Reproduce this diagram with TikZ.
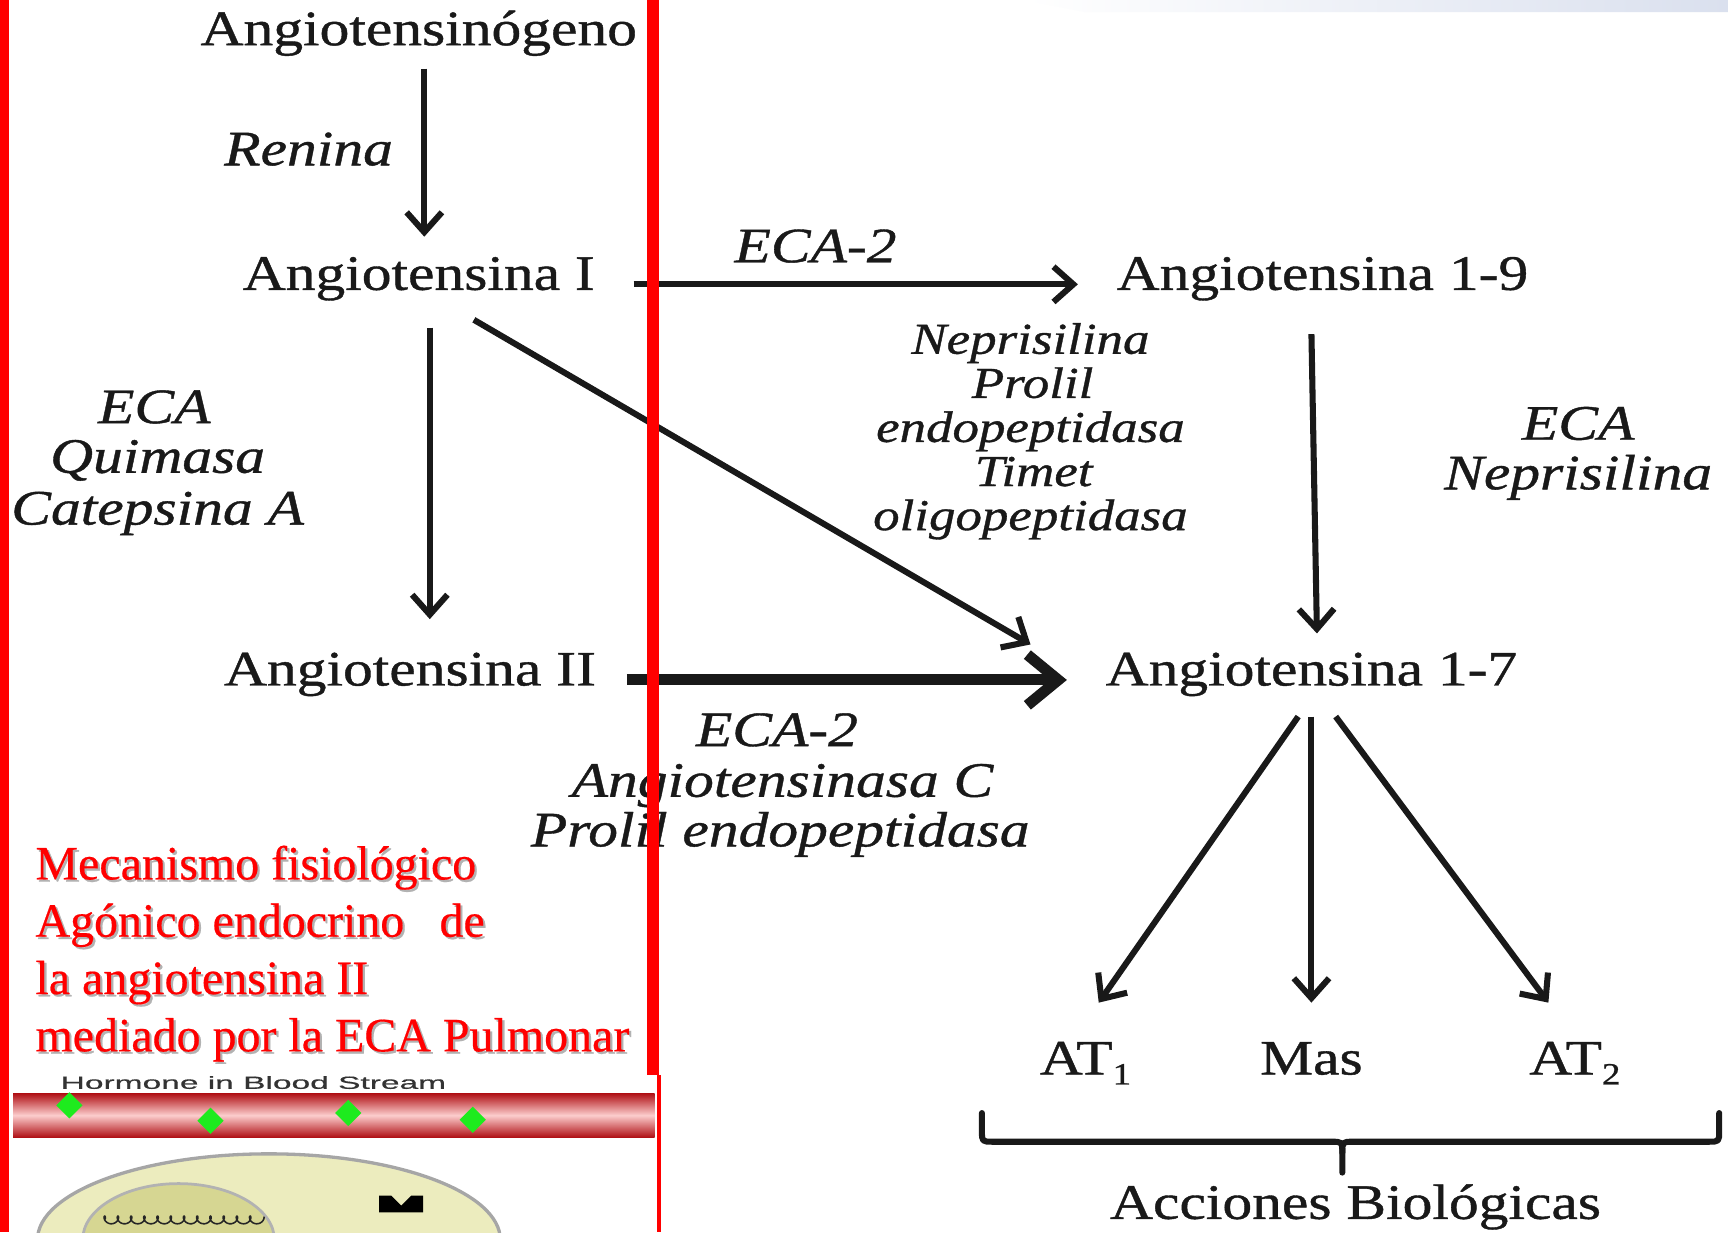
\documentclass[tikz,border=0pt]{standalone}
\usepackage{fontspec}
\usetikzlibrary{arrows.meta,shapes.geometric}
\newfontfamily\dgfont[FakeStretch=1.2,FakeBold=0.8]{Liberation Serif}
\newfontfamily\rdfont[FakeBold=0.4]{Liberation Serif}
\newfontfamily\hbfont[FakeStretch=1.9,FakeBold=0.5]{Liberation Sans}
\definecolor{ink}{gray}{0.1}
\definecolor{slidered}{RGB}{255,0,0}
\definecolor{cellfill}{RGB}{236,236,190}
\definecolor{nucfill}{RGB}{214,214,146}
\definecolor{swoosh}{RGB}{218,224,238}
\definecolor{vesseldark}{RGB}{175,15,20}
\definecolor{vessellight}{RGB}{252,205,205}
\definecolor{hormone}{RGB}{30,235,30}

\begin{document}
\begin{tikzpicture}[x=1pt,y=-1pt,
  mol/.style={font=\dgfont\fontsize{45}{50}\selectfont, text=ink, inner xsep=4pt,
              inner ysep=0pt, text height=30pt, text depth=0pt, anchor=base},
  enz/.style={font=\dgfont\itshape\fontsize{45}{50}\selectfont, text=ink,
              inner sep=0pt, anchor=base},
  enzs/.style={enz, font=\dgfont\itshape\fontsize{40}{44}\selectfont},
  arr/.style={draw=ink, line width=5.5pt, -{Straight Barb[length=18pt,width=32pt]}},
  bigarr/.style={draw=ink, line width=10pt, -{Straight Barb[length=28pt,width=46pt]}},
  brace/.style={draw=ink, line width=5.5pt, line cap=round, line join=round},
  redtxt/.style={font=\rdfont\fontsize{43.5}{50}\selectfont, text=slidered,
                 inner sep=0pt, anchor=base west},
  redshadow/.style={redtxt, text=black!30},
  bar/.style={fill=slidered}
]
\useasboundingbox (0,0) rectangle (1568,1118);
\clip (0,0) rectangle (1568,1118);
\fill[white] (0,0) rectangle (1568,1118);

% faint slide swoosh along the top edge
\shade[left color=white, right color=swoosh] (930,0) -- (1568,0) -- (1568,11) -- (985,11) -- cycle;

% molecules
\node[mol] (ang) at (380,41) {Angiotensinógeno};
\node[mol] (a1)  at (380,263) {Angiotensina I};
\node[mol] (a19) at (1200,263) {Angiotensina 1-9};
\node[mol] (a2)  at (372,622) {Angiotensina II};
\node[mol] (a17) at (1190,622) {Angiotensina 1-7};
\node[mol] (at1) at (985,975) {AT\raisebox{-9pt}{\fontsize{28}{28}\selectfont 1}};
\node[mol] (mas) at (1190,975) {Mas};
\node[mol] (at2) at (1429,975) {AT\raisebox{-9pt}{\fontsize{28}{28}\selectfont 2}};
\node[mol] (acc) at (1230,1106) {Acciones Biológicas};

% enzymes
\node[enz] (ren) at (280,150) {Renina};
\node[enz] (eca2a) at (740,238) {ECA-2};
\node[enz] (l1) at (140,384) {ECA};
\node[enz] (l2) at (143,429) {Quimasa};
\node[enz] (l3) at (143,476) {Catepsina A};
\node[enzs] (m1) at (935,321) {Neprisilina};
\node[enzs] (m2) at (937,361) {Prolil};
\node[enzs] (m3) at (935,401) {endopeptidasa};
\node[enzs] (m4) at (938,441) {Timet};
\node[enzs] (m5) at (935,481) {oligopeptidasa};
\node[enz] (r1) at (1432,399) {ECA};
\node[enz] (r2) at (1432,444) {Neprisilina};
\node[enz] (b1) at (705,677) {ECA-2};
\node[enz] (b2) at (710,723) {Angiotensinasa C};
\node[enz] (b3) at (708,768) {Prolil endopeptidasa};

% reactions
\draw[arr] ([xshift=5pt,yshift=-21pt]ang.south) -- ([xshift=5pt,yshift=18pt]a1.north);
\draw[arr] ([xshift=10pt,yshift=-34pt]a1.south) -- ([xshift=18pt,yshift=30pt]a2.north);
\draw[arr] ([xshift=50pt,yshift=-27pt]a1.south) -- ([xshift=-64pt,yshift=7pt]a17.north west);
\draw[arr] ([xshift=31pt,yshift=-10pt]a1.east) -- ([xshift=-31pt,yshift=-10pt]a19.west);
\draw[bigarr] ([xshift=24pt,yshift=-10pt]a2.east) -- ([xshift=-31pt,yshift=-10pt]a17.west);
\draw[arr] ([xshift=-10pt,yshift=-40pt]a19.south) -- ([xshift=5pt,yshift=17pt]a17.north);
\draw[arr] ([xshift=-12pt,yshift=-28pt]a17.south) -- ([xshift=12pt,yshift=35pt]at1.north);
\draw[arr] ([yshift=-28pt]a17.south) -- ([yshift=35pt]mas.north);
\draw[arr] ([xshift=22pt,yshift=-28pt]a17.south) -- ([xshift=-24pt,yshift=35pt]at2.north);

% brace over the receptors
\draw[brace] (891,1010) -- (891,1026) .. controls (891,1036) .. (901,1036) -- (1208,1036)
  .. controls (1218,1036) .. (1218,1046) -- (1218,1064);
\draw[brace] (1218,1046) .. controls (1218,1036) .. (1228,1036) -- (1550,1036)
  .. controls (1560,1036) .. (1560,1026) -- (1560,1010);

% red caption with soft shadow
\node[redshadow] (s1) at (34,800) {Mecanismo fisiológico};
\node[redshadow] (s2) at (34,852) {Agónico endocrino\hspace*{32pt}de};
\node[redshadow] (s3) at (34,904) {la angiotensina II};
\node[redshadow] (s4) at (34,956) {mediado por la ECA Pulmonar};
\node[redtxt] (t1) at (32,798) {Mecanismo fisiológico};
\node[redtxt] (t2) at (32,850) {Agónico endocrino\hspace*{32pt}de};
\node[redtxt] (t3) at (32,902) {la angiotensina II};
\node[redtxt] (t4) at (32,954) {mediado por la ECA Pulmonar};

% hormone in the blood stream
\node[font=\hbfont\fontsize{16}{18}\selectfont, text=black!80, anchor=base, inner sep=0pt]
  (hb) at (230,988) {Hormone in Blood Stream};
\shade[top color=vesseldark, bottom color=vesseldark, middle color=vessellight]
  (12,992) rectangle (594,1032);
\foreach \n/\x/\y in {d1/63/1003, d2/191/1017, d3/316/1010, d4/429/1016}
  \node[diamond, fill=hormone, minimum width=24pt, minimum height=24pt, inner sep=0pt]
    (\n) at (\x,\y) {};

% target cell
\filldraw[fill=cellfill, draw=gray!70, line width=3pt] (244,1125) ellipse [x radius=210, y radius=78];
\filldraw[fill=nucfill, draw=gray!60, line width=2.5pt] (162,1125) ellipse [x radius=87, y radius=51];
\draw[line width=1.4pt, black!85] plot[domain=0:146, samples=200]
  ({92+\x+3*cos(\x*30)}, {1107-3.5*sin(\x*30)});
\fill[black] (344,1085) -- (355,1085) -- (364,1094) -- (373,1085) -- (384,1085)
  -- (384,1100) -- (344,1100) -- cycle;

% red frame bars
\fill[bar] (0,0) rectangle (8,1118);
\fill[bar] (587,0) rectangle (598,975);
\fill[bar] (596,975) rectangle (600,1118);
\end{tikzpicture}
\end{document}
